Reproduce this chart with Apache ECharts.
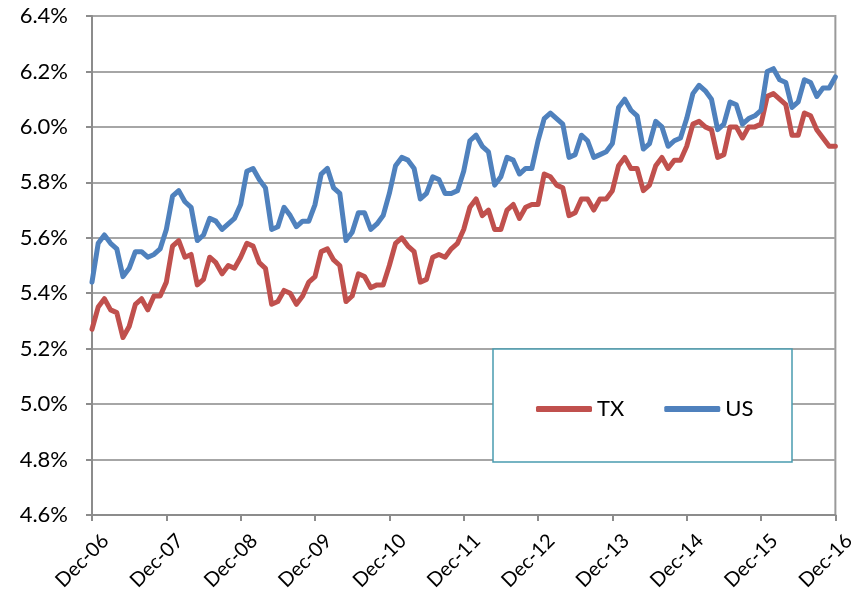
<!DOCTYPE html>
<html>
<head>
<meta charset="utf-8">
<script src="https://cdn.jsdelivr.net/npm/echarts@6/dist/echarts.min.js"></script>
<style>
  html, body { margin: 0; padding: 0; background: #ffffff; }
  #chart { width: 858px; height: 606px; }
</style>
</head>
<body>
<div id="chart"></div>
<script>
// Monthly series, Dec-06 through Dec-16 (percent)
const monthNames = ['Jan','Feb','Mar','Apr','May','Jun','Jul','Aug','Sep','Oct','Nov','Dec'];
const months = [];
for (let i = 0; i <= 120; i++) {
  const m = (11 + i) % 12;
  const yr = 6 + Math.floor((11 + i) / 12);
  months.push(monthNames[m] + '-' + String(yr).padStart(2, '0'));
}

const tx = [
  5.27, 5.35, 5.38, 5.34, 5.33, 5.24, 5.28, 5.36, 5.38, 5.34, 5.39, 5.39,
  5.44, 5.57, 5.59, 5.53, 5.54, 5.43, 5.45, 5.53, 5.51, 5.47, 5.50, 5.49,
  5.53, 5.58, 5.57, 5.51, 5.49, 5.36, 5.37, 5.41, 5.40, 5.36, 5.39, 5.44,
  5.46, 5.55, 5.56, 5.52, 5.50, 5.37, 5.39, 5.47, 5.46, 5.42, 5.43, 5.43,
  5.50, 5.58, 5.60, 5.57, 5.55, 5.44, 5.45, 5.53, 5.54, 5.53, 5.56, 5.58,
  5.63, 5.71, 5.74, 5.68, 5.70, 5.63, 5.63, 5.70, 5.72, 5.67, 5.71, 5.72,
  5.72, 5.83, 5.82, 5.79, 5.78, 5.68, 5.69, 5.74, 5.74, 5.70, 5.74, 5.74,
  5.77, 5.86, 5.89, 5.85, 5.85, 5.77, 5.79, 5.86, 5.89, 5.85, 5.88, 5.88,
  5.93, 6.01, 6.02, 6.00, 5.99, 5.89, 5.90, 6.00, 6.00, 5.96, 6.00, 6.00,
  6.01, 6.11, 6.12, 6.10, 6.08, 5.97, 5.97, 6.05, 6.04, 5.99, 5.96, 5.93,
  5.93
];

const us = [
  5.44, 5.58, 5.61, 5.58, 5.56, 5.46, 5.49, 5.55, 5.55, 5.53, 5.54, 5.56,
  5.63, 5.75, 5.77, 5.73, 5.71, 5.59, 5.61, 5.67, 5.66, 5.63, 5.65, 5.67,
  5.72, 5.84, 5.85, 5.81, 5.78, 5.63, 5.64, 5.71, 5.68, 5.64, 5.66, 5.66,
  5.72, 5.83, 5.85, 5.78, 5.76, 5.59, 5.62, 5.69, 5.69, 5.63, 5.65, 5.68,
  5.76, 5.86, 5.89, 5.88, 5.85, 5.74, 5.76, 5.82, 5.81, 5.76, 5.76, 5.77,
  5.84, 5.95, 5.97, 5.93, 5.91, 5.79, 5.82, 5.89, 5.88, 5.83, 5.85, 5.85,
  5.95, 6.03, 6.05, 6.03, 6.01, 5.89, 5.90, 5.97, 5.95, 5.89, 5.90, 5.91,
  5.94, 6.07, 6.10, 6.06, 6.04, 5.92, 5.94, 6.02, 6.00, 5.93, 5.95, 5.96,
  6.03, 6.12, 6.15, 6.13, 6.10, 5.99, 6.01, 6.09, 6.08, 6.01, 6.03, 6.04,
  6.06, 6.20, 6.21, 6.17, 6.16, 6.07, 6.09, 6.17, 6.16, 6.11, 6.14, 6.14,
  6.18
];

const seriesNames = ['TX', 'US'];
const seriesColors = ['#C0504D', '#4F81BD'];
const yMin = 4.6, yMax = 6.4, yStep = 0.2;

const FONT = 'Lato, "Open Sans", sans-serif';
const axisGray = '#8c8c8c';

const chart = echarts.init(document.getElementById('chart'), null, { renderer: 'canvas' });

chart.setOption({
  backgroundColor: '#ffffff',
  animation: false,
  grid: {
    left: 92, right: 20, top: 16, bottom: 91,
    show: true, borderColor: '#9a9a9a', borderWidth: 2, backgroundColor: 'transparent'
  },
  xAxis: {
    type: 'category',
    data: months,
    boundaryGap: false,
    axisLine: { lineStyle: { color: axisGray, width: 2 } },
    axisTick: { show: true, interval: 11, length: 6, lineStyle: { color: axisGray, width: 2 } },
    axisLabel: {
      interval: 11, rotate: 45, margin: 36,
      padding: [0, -19, 0, 0],
      fontSize: 20, color: '#000', fontFamily: FONT
    },
    splitLine: { show: false }
  },
  yAxis: {
    type: 'value',
    min: yMin, max: yMax, interval: yStep,
    axisLine: { show: true, lineStyle: { color: axisGray, width: 2 } },
    axisTick: { show: true, length: 6, lineStyle: { color: axisGray, width: 2 } },
    axisLabel: {
      margin: 24, fontSize: 22, color: '#000', fontFamily: FONT,
      formatter: v => v.toFixed(1) + '%'
    },
    splitLine: { lineStyle: { color: '#a6a6a6', width: 2 } }
  },
  legend: {
    data: seriesNames,
    left: 531, top: 393,
    icon: 'roundRect',
    itemWidth: 56, itemHeight: 6, itemGap: 40,
    textStyle: { fontSize: 22, color: '#000', fontFamily: FONT },
    z: 20
  },
  graphic: [{
    type: 'rect', z: 10,
    shape: { x: 493, y: 349, width: 299, height: 113 },
    style: { fill: '#ffffff', stroke: '#4a9cb0', lineWidth: 1.5 }
  }],
  series: [
    {
      name: seriesNames[0], type: 'line', data: tx,
      showSymbol: false, symbol: 'none',
      lineStyle: { color: seriesColors[0], width: 5, join: 'round', cap: 'round' },
      itemStyle: { color: seriesColors[0] }
    },
    {
      name: seriesNames[1], type: 'line', data: us,
      showSymbol: false, symbol: 'none',
      lineStyle: { color: seriesColors[1], width: 5, join: 'round', cap: 'round' },
      itemStyle: { color: seriesColors[1] }
    }
  ]
});
</script>
</body>
</html>
